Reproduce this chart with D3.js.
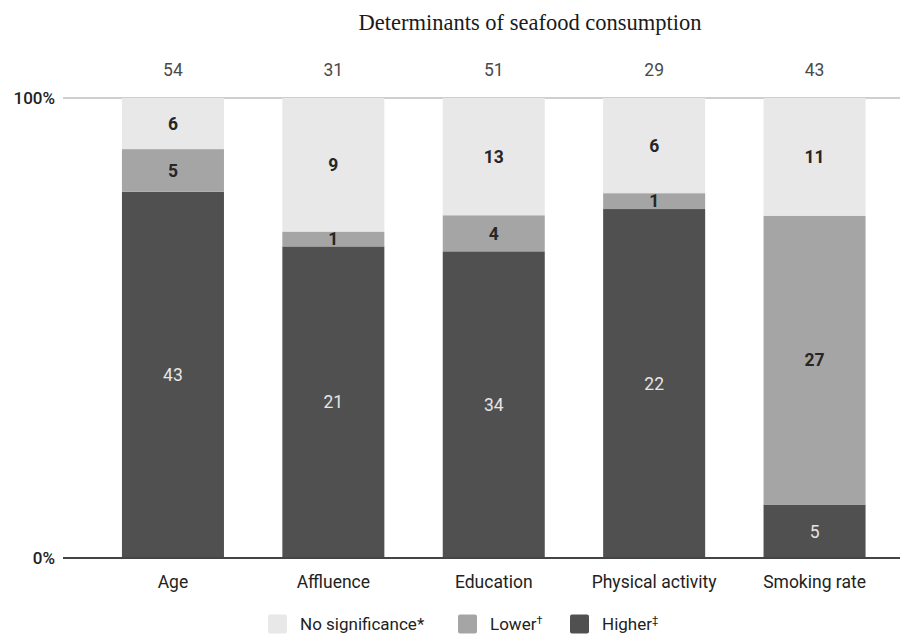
<!DOCTYPE html>
<html>
<head>
<meta charset="utf-8">
<script src="https://cdn.jsdelivr.net/npm/d3@7"></script>
<style>
  body { margin: 0; background: #fff; }
  svg { display: block; }
</style>
</head>
<body>
<svg id="chart" width="910" height="637"></svg>
<script>
// Determinants of seafood consumption: counts of studies per outcome
const categories = ["Age", "Affluence", "Education", "Physical activity", "Smoking rate"];
const higher = [43, 21, 34, 22, 5];
const lower = [5, 1, 4, 1, 27];
const noSignificance = [6, 9, 13, 6, 11];
const seriesNames = ["Higher‡", "Lower†", "No significance*"];
const legendOrder = ["No significance*", "Lower†", "Higher‡"];
const yTickLabels = ["0%", "100%"];

const colors = {
  "No significance*": "#e8e8e8",
  "Lower†": "#a5a5a5",
  "Higher‡": "#505050"
};
const labelColors = {
  "No significance*": "#262626",
  "Lower†": "#262626",
  "Higher‡": "#e6e6e6"
};

const rows = categories.map((c, i) => ({
  category: c,
  "Higher‡": higher[i],
  "Lower†": lower[i],
  "No significance*": noSignificance[i],
  total: higher[i] + lower[i] + noSignificance[i]
}));

const svg = d3.select("#chart");
const plotTop = 98, plotBottom = 558;
const lineStart = 63, lineEnd = 900;

const x = d3.scaleBand()
  .domain(categories)
  .range([92.75, 894.75])
  .paddingInner(0.364)
  .paddingOuter(0.182);

const y = d3.scaleLinear().domain([0, 1]).range([plotBottom, plotTop]);

const stack = d3.stack().keys(seriesNames)
  .offset(d3.stackOffsetExpand);
const layers = stack(rows);

// Title
svg.append("text")
  .attr("x", 530).attr("y", 30)
  .attr("text-anchor", "middle")
  .attr("font-family", "Liberation Serif, serif")
  .attr("font-size", 22.5)
  .attr("fill", "#1a1a1a")
  .text("Determinants of seafood consumption");

// 100% gridline
svg.append("line")
  .attr("x1", lineStart).attr("x2", lineEnd)
  .attr("y1", y(1)).attr("y2", y(1))
  .attr("stroke", "#cfcfcf").attr("stroke-width", 2);

// Bars
const g = svg.append("g");
layers.forEach(layer => {
  const key = layer.key;
  g.selectAll(null).data(layer).enter().append("rect")
    .attr("x", d => x(d.data.category))
    .attr("width", x.bandwidth())
    .attr("y", d => y(d[1]))
    .attr("height", d => y(d[0]) - y(d[1]))
    .attr("fill", colors[key]);
  g.selectAll(null).data(layer).enter().append("text")
    .attr("x", d => x(d.data.category) + x.bandwidth() / 2)
    .attr("y", d => (y(d[0]) + y(d[1])) / 2)
    .attr("dy", "0.36em")
    .attr("text-anchor", "middle")
    .attr("font-family", "Roboto, sans-serif")
    .attr("font-size", 17.5)
    .attr("font-weight", key === "Higher‡" ? 400 : 700)
    .attr("fill", labelColors[key])
    .text(d => d.data[key]);
});

// Baseline
svg.append("line")
  .attr("x1", lineStart).attr("x2", lineEnd)
  .attr("y1", y(0)).attr("y2", y(0))
  .attr("stroke", "#444").attr("stroke-width", 2);

// Y tick labels
svg.selectAll(".ytick").data([0, 1]).enter().append("text")
  .attr("x", 55)
  .attr("y", d => y(d))
  .attr("dy", "0.36em")
  .attr("text-anchor", "end")
  .attr("font-family", "Roboto, sans-serif")
  .attr("font-size", 17)
  .attr("font-weight", 500)
  .attr("fill", "#222")
  .text((d, i) => yTickLabels[i]);

// Totals above bars
svg.selectAll(".total").data(rows).enter().append("text")
  .attr("x", d => x(d.category) + x.bandwidth() / 2)
  .attr("y", 70)
  .attr("dy", "0.36em")
  .attr("text-anchor", "middle")
  .attr("font-family", "Roboto, sans-serif")
  .attr("font-size", 17.5)
  .attr("fill", "#4a4a4a")
  .text(d => d.total);

// Category axis labels
svg.selectAll(".cat").data(categories).enter().append("text")
  .attr("x", d => x(d) + x.bandwidth() / 2)
  .attr("y", 582)
  .attr("dy", "0.36em")
  .attr("text-anchor", "middle")
  .attr("font-family", "Roboto, sans-serif")
  .attr("font-size", 17.5)
  .attr("fill", "#222")
  .text(d => d);

// Legend (dagger marks set as superscripts; the asterisk sits raised already)
const legendX = [268, 458, 570];
const legend = svg.selectAll(".leg").data(legendOrder).enter().append("g")
  .attr("transform", (d, i) => `translate(${legendX[i]},624)`);
legend.append("rect")
  .attr("x", 0).attr("y", -9.5)
  .attr("width", 19).attr("height", 19)
  .attr("rx", 2)
  .attr("fill", d => colors[d]);
const legendText = legend.append("text")
  .attr("x", 32).attr("y", 0)
  .attr("dy", "0.36em")
  .attr("font-family", "Roboto, sans-serif")
  .attr("font-size", 17)
  .attr("fill", "#222");
legendText.append("tspan").text(d => d.endsWith("*") ? d : d.slice(0, -1));
legendText.filter(d => !d.endsWith("*")).append("tspan")
  .attr("font-size", 11)
  .attr("dy", "-0.55em")
  .text(d => d.slice(-1));
</script>
</body>
</html>
